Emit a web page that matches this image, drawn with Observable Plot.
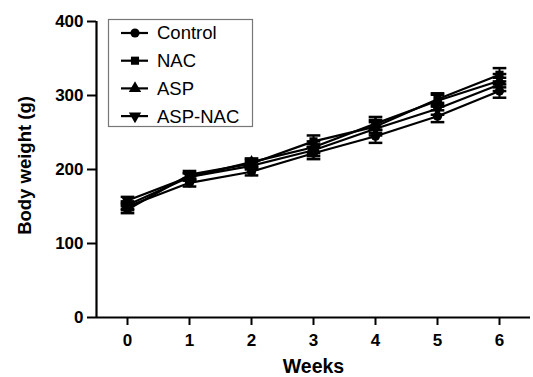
<!DOCTYPE html>
<html>
<head>
<meta charset="utf-8">
<script src="https://cdn.jsdelivr.net/npm/d3@7"></script>
<script src="https://cdn.jsdelivr.net/npm/@observablehq/plot@0.6"></script>
<style>
  html, body { margin: 0; padding: 0; background: #fff; }
  #chart { position: relative; width: 533px; height: 377px; }
  svg { font-family: "Liberation Sans", Arial, sans-serif; }
</style>
</head>
<body>
<div id="chart"></div>
<script>
const weeks = [0, 1, 2, 3, 4, 5, 6];
const seriesNames = ["Control", "NAC", "ASP", "ASP-NAC"];
const control = [150, 182, 197, 222, 245, 272, 306];
const nac     = [146, 193, 208, 238, 258, 295, 328];
const asp     = [152, 190, 210, 230, 262, 293, 320];
const aspNac  = [158, 190, 205, 226, 255, 282, 315];
const sem     = [5, 5, 5, 8, 9, 8, 9];
const yTicks = [0, 100, 200, 300, 400];
const xLabel = "Weeks";
const yLabel = "Body weight (g)";

const triDown = {
  draw(context, size) {
    const h = Math.sqrt(size / (Math.sqrt(3) * 3));
    context.moveTo(0, 2 * h);
    context.lineTo(-Math.sqrt(3) * h, -h);
    context.lineTo(Math.sqrt(3) * h, -h);
    context.closePath();
  }
};
const symbols = ["circle", "square", "triangle", triDown];
const values = [control, nac, asp, aspNac];

const data = [];
seriesNames.forEach((s, i) => weeks.forEach((w, j) => data.push({series: s, week: w, value: values[i][j], err: sem[j]})));

const capHalf = 0.11;
const marks = [
  Plot.ruleX([-0.5], {strokeWidth: 2.2}),
  Plot.ruleY([0], {strokeWidth: 2.2}),
  Plot.axisY({ticks: yTicks, tickSize: 9, tickPadding: 4, fontSize: 17, fontWeight: "bold", strokeWidth: 2, label: null}),
  Plot.axisX({ticks: weeks, tickFormat: "d", tickSize: 8, tickPadding: 8, fontSize: 17, fontWeight: "bold", strokeWidth: 2, label: null}),
  Plot.text([yLabel], {frameAnchor: "left", dx: -71, dy: -4, rotate: -90, textAnchor: "middle", lineAnchor: "middle", fontSize: 18.5, fontWeight: "bold"}),
  Plot.text([xLabel], {frameAnchor: "bottom", dy: 49, lineAnchor: "middle", fontSize: 19.5, fontWeight: "bold"}),
];
seriesNames.forEach((s, i) => {
  const d = data.filter(e => e.series === s);
  marks.push(Plot.ruleX(d, {x: "week", y1: e => e.value - e.err, y2: e => e.value + e.err, strokeWidth: 2}));
  marks.push(Plot.link(d, {x1: e => e.week - capHalf, x2: e => e.week + capHalf, y1: e => e.value + e.err, y2: e => e.value + e.err, strokeWidth: 2.5}));
  marks.push(Plot.link(d, {x1: e => e.week - capHalf, x2: e => e.week + capHalf, y1: e => e.value - e.err, y2: e => e.value - e.err, strokeWidth: 2.5}));
  marks.push(Plot.line(d, {x: "week", y: "value", stroke: "black", strokeWidth: 2.2}));
  marks.push(Plot.dot(d, {x: "week", y: "value", symbol: symbols[i], r: 4.6, fill: "black", stroke: "none"}));
});

const plot = Plot.plot({
  width: 533,
  height: 377,
  marginLeft: 96,
  marginRight: 3,
  marginTop: 21,
  marginBottom: 60,
  style: {fontFamily: "Liberation Sans, Arial, sans-serif", color: "black", background: "white"},
  x: {domain: [-0.5, 6.5]},
  y: {domain: [0, 400]},
  marks
});
document.getElementById("chart").appendChild(plot);

// Legend inside the plot area
const svg = d3.select(plot);
const lg = svg.append("g").attr("class", "legend").attr("text-anchor", "start");
lg.append("rect").attr("x", 108.5).attr("y", 19.5).attr("width", 144).attr("height", 107)
  .attr("fill", "white").attr("stroke", "#777").attr("stroke-width", 1.2);
seriesNames.forEach((s, i) => {
  const cy = 33 + i * 27.7;
  lg.append("line").attr("x1", 121).attr("x2", 148).attr("y1", cy).attr("y2", cy)
    .attr("stroke", "black").attr("stroke-width", 2.2);
  const sym = i === 3 ? triDown : [d3.symbolCircle, d3.symbolSquare, d3.symbolTriangle][i];
  lg.append("path").attr("d", d3.symbol(sym, Math.PI * 21)()).attr("transform", `translate(135,${cy})`).attr("fill", "black");
  lg.append("text").attr("x", 157).attr("y", cy).attr("dy", "0.35em").attr("font-size", 18.5).attr("fill", "black").attr("text-anchor", "start").text(s);
});
</script>
</body>
</html>
